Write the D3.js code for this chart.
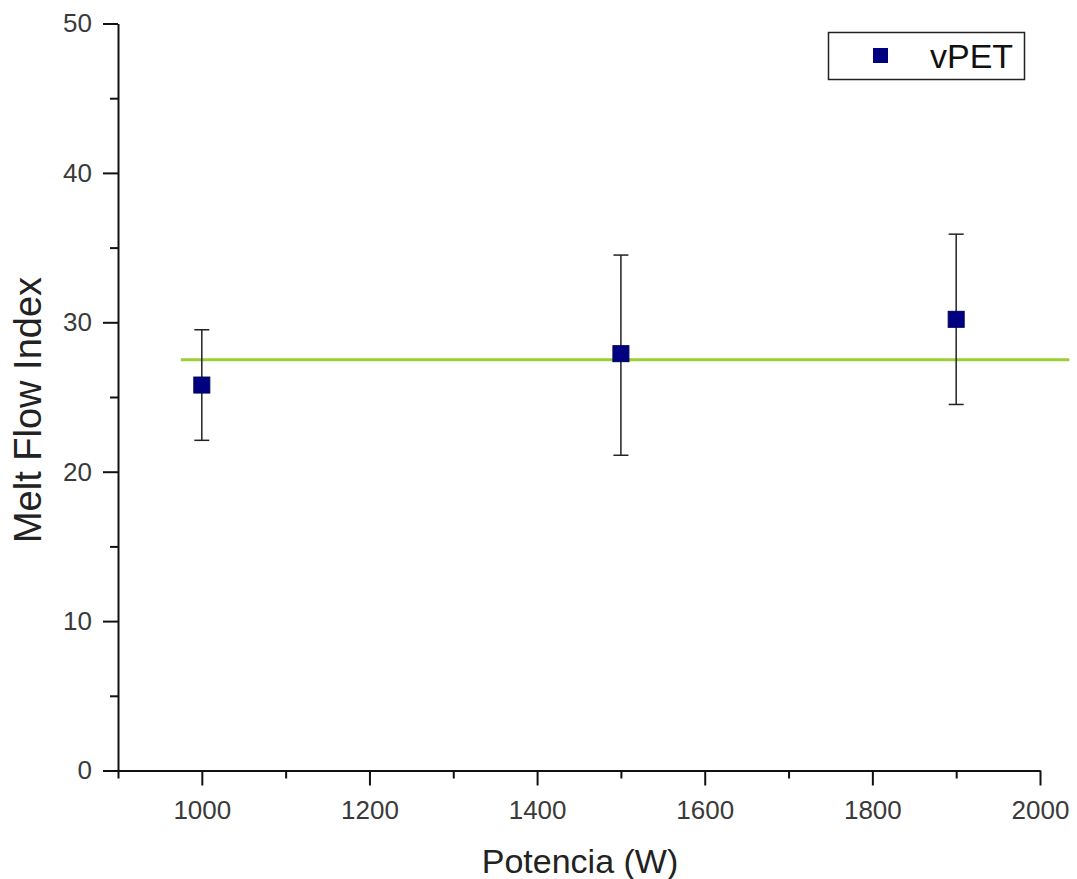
<!DOCTYPE html>
<html>
<head>
  <meta charset="utf-8">
  <script src="https://cdnjs.cloudflare.com/ajax/libs/d3/7.8.5/d3.min.js"></script>
  <style>
    body { margin: 0; background: #fff; }
    text { font-family: "Liberation Sans", Arial, sans-serif; }
  </style>
</head>
<body>
  <script>
    // data
    var potencia = [1000, 1500, 1900];
    var mfi = [25.8, 27.9, 30.2];
    var errLow = [22.1, 21.1, 24.5];
    var errHigh = [29.5, 34.5, 35.9];
    var meanX = [975, 2035];
    var meanY = [27.5, 27.5];
    var xTicks = [1000, 1200, 1400, 1600, 1800, 2000];
    var xMinor = [900, 1100, 1300, 1500, 1700, 1900];
    var yTicks = [0, 10, 20, 30, 40, 50];
    var yMinor = [5, 15, 25, 35, 45];
    var seriesName = "vPET";

    var width = 1077, height = 879;

    var x = d3.scaleLinear().domain([900, 2000]).range([118, 1040]);
    var y = d3.scaleLinear().domain([0, 50]).range([770.5, 23.5]);

    var svg = d3.select("body").append("svg")
      .attr("width", width)
      .attr("height", height);

    // mean line
    svg.append("line")
      .attr("x1", x(meanX[0])).attr("x2", x(meanX[1]))
      .attr("y1", y(meanY[0])).attr("y2", y(meanY[1]))
      .attr("stroke", "#9ccf34")
      .attr("stroke-width", 3);

    // axes
    var xAxis = svg.append("g").attr("transform", "translate(0," + y(0) + ")");
    xAxis.call(d3.axisBottom(x).tickValues(xTicks).tickFormat(d3.format("d"))
      .tickSize(15).tickSizeOuter(0).tickPadding(10));
    xAxis.append("g").call(d3.axisBottom(x).tickValues(xMinor).tickSize(8).tickFormat(""))
      .select(".domain").remove();

    var yAxis = svg.append("g").attr("transform", "translate(" + x(900) + ",0)");
    yAxis.call(d3.axisLeft(y).tickValues(yTicks).tickFormat(d3.format("d"))
      .tickSize(15).tickSizeOuter(0).tickPadding(11));
    yAxis.append("g").call(d3.axisLeft(y).tickValues(yMinor).tickSize(8).tickFormat(""))
      .select(".domain").remove();

    svg.selectAll(".domain, .tick line")
      .attr("stroke", "#111")
      .attr("stroke-width", 2);
    svg.selectAll(".tick text")
      .attr("font-size", 26)
      .attr("fill", "#3a3a3a");
    xAxis.selectAll(".tick text").attr("dy", "0.9em");

    // error bars
    var pts = potencia.map(function(p, i) {
      return { x: p, y: mfi[i], lo: errLow[i], hi: errHigh[i] };
    });

    var bars = svg.append("g").selectAll("g")
      .data(pts).enter().append("g")
      .attr("stroke", "#222")
      .attr("stroke-width", 1.5);
    bars.append("line")
      .attr("x1", function(d) { return x(d.x); })
      .attr("x2", function(d) { return x(d.x); })
      .attr("y1", function(d) { return y(d.lo); })
      .attr("y2", function(d) { return y(d.hi); });
    bars.append("line")
      .attr("x1", function(d) { return x(d.x) - 7.5; })
      .attr("x2", function(d) { return x(d.x) + 7.5; })
      .attr("y1", function(d) { return y(d.hi); })
      .attr("y2", function(d) { return y(d.hi); });
    bars.append("line")
      .attr("x1", function(d) { return x(d.x) - 7.5; })
      .attr("x2", function(d) { return x(d.x) + 7.5; })
      .attr("y1", function(d) { return y(d.lo); })
      .attr("y2", function(d) { return y(d.lo); });

    // markers
    svg.append("g").selectAll("rect")
      .data(pts).enter().append("rect")
      .attr("x", function(d) { return x(d.x) - 8; })
      .attr("y", function(d) { return y(d.y) - 8; })
      .attr("width", 16)
      .attr("height", 16)
      .attr("fill", "#000080")
      .attr("stroke", "#00005a")
      .attr("stroke-width", 1);

    // axis titles
    svg.append("text")
      .attr("x", 580)
      .attr("y", 873)
      .attr("text-anchor", "middle")
      .attr("font-size", 34)
      .attr("fill", "#222")
      .text("Potencia (W)");

    svg.append("text")
      .attr("transform", "translate(41,410) rotate(-90)")
      .attr("text-anchor", "middle")
      .attr("font-size", 38)
      .attr("fill", "#222")
      .text("Melt Flow Index");

    // legend
    var legend = svg.append("g");
    legend.append("rect")
      .attr("x", 828.5).attr("y", 32.5)
      .attr("width", 196).attr("height", 47)
      .attr("fill", "#fff")
      .attr("stroke", "#222")
      .attr("stroke-width", 1.5);
    legend.append("rect")
      .attr("x", 873).attr("y", 48)
      .attr("width", 15).attr("height", 15)
      .attr("fill", "#000080");
    legend.append("text")
      .attr("x", 930).attr("y", 68)
      .attr("font-size", 34)
      .attr("fill", "#111")
      .text(seriesName);
  </script>
</body>
</html>
